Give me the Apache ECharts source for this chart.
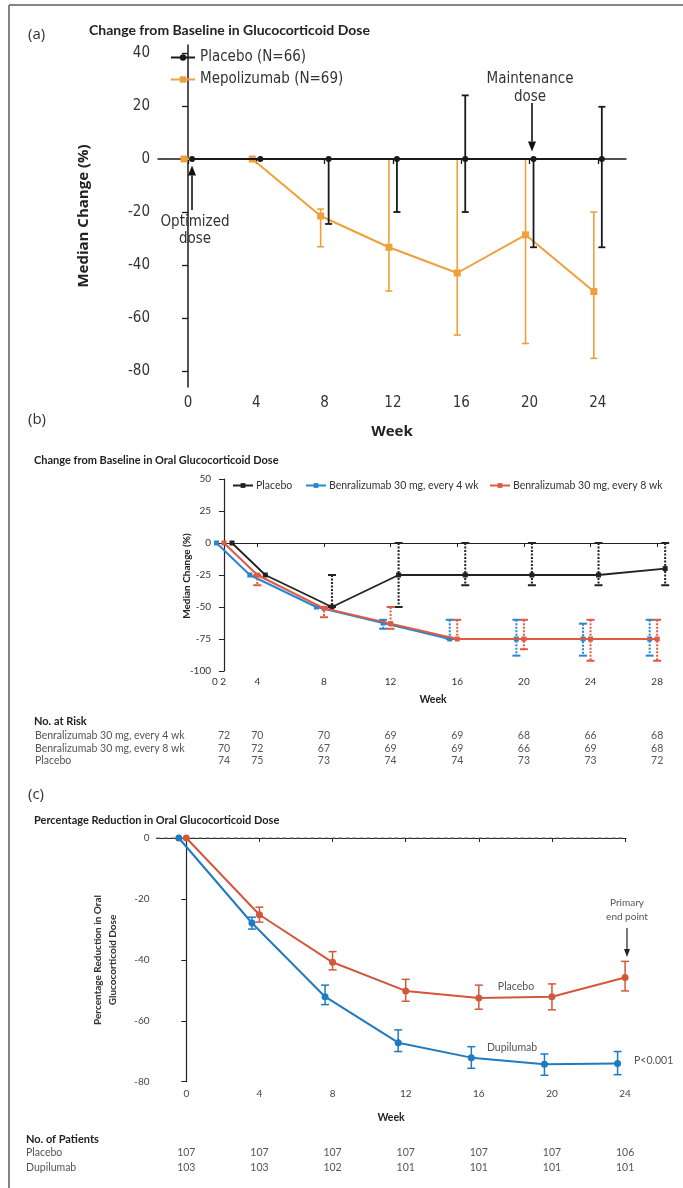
<!DOCTYPE html>
<html><head><meta charset="utf-8">
<script src="https://cdn.jsdelivr.net/npm/echarts@6/dist/echarts.min.js"></script>
<style>html,body{margin:0;padding:0;background:#fff}#chart{width:683px;height:1188px}</style>
</head><body><div id="chart"></div>
<script>
// ---------- Panel (a) data ----------
const weeksA = [0, 4, 8, 12, 16, 20, 24];
const yTicksA = [-80, -60, -40, -20, 0, 20, 40];
const placeboA = [0, 0, 0, 0, 0, 0, 0];
const placeboA_lo = [null, null, -24.5, -20, -20, -33.3, -33.3];
const placeboA_hi = [null, null, 0, 0, 24, 0, 19.7];
const mepoA = [0, 0, -21.5, -33.3, -43, -28.6, -50];
const mepoA_lo = [null, null, -33.1, -49.8, -66.4, -69.6, -75.2];
const mepoA_hi = [null, null, -18.9, 0, 0, 0, -20];

// ---------- Panel (b) data ----------
const weeksB = [0, 4, 8, 12, 16, 20, 24, 28];
const xTickLabelsB = ['0 2', '4', '8', '12', '16', '20', '24', '28'];
const placeboB = [0, -25, -50, -25, -25, -25, -25, -20];
const placeboB_lo = [null, null, -50, -50, -33, -33, -33, -33];
const placeboB_hi = [null, null, -25, 0, 0, 0, 0, 0];
const q4B = [0, -25, -50, -62.5, -75, -75, -75, -75];
const q4B_lo = [null, null, null, -67, -75, -88, -88, -88];
const q4B_hi = [null, null, null, -60, -60, -60, -63, -60];
const q8B = [0, -25, -51, -63, -75, -75, -75, -75];
const q8B_lo = [null, -33, -58, -67, -75, -83, -92, -92];
const q8B_hi = [null, -25, -50, -50, -60, -60, -60, -60];
const riskRowLabelsB = ['Benralizumab 30 mg, every 4 wk', 'Benralizumab 30 mg, every 8 wk', 'Placebo'];
const riskQ4 = [72, 70, 70, 69, 69, 68, 66, 68];
const riskQ8 = [70, 72, 67, 69, 69, 66, 69, 68];
const riskPlaceboB = [74, 75, 73, 74, 74, 73, 73, 72];

// ---------- Panel (c) data ----------
const weeksC = [0, 4, 8, 12, 16, 20, 24];
const placeboC = [0, -25.2, -40.8, -50.2, -52.5, -52.1, -45.8];
const placeboC_lo = [null, -27.6, -43.3, -53.6, -56.2, -56.4, -50.2];
const placeboC_hi = [null, -22.7, -37.3, -46.4, -48.3, -47.9, -40.5];
const dupiC = [0, -27.9, -52.1, -67.2, -72.1, -74.3, -74.0];
const dupiC_lo = [null, -29.9, -54.7, -70.1, -75.6, -77.9, -77.7];
const dupiC_hi = [null, -26.0, -48.3, -63.0, -68.5, -70.9, -70.1];
const patientRowLabelsC = ['Placebo', 'Dupilumab'];
const patientsPlaceboC = [107, 107, 107, 107, 107, 107, 106];
const patientsDupiC = [103, 103, 102, 101, 101, 101, 101];

// ---------- styling ----------
const FA = "'Liberation Sans Narrow','DejaVu Sans Condensed','Open Sans',sans-serif";
const FB = "Lato,'Open Sans',sans-serif";
const ORANGE = '#eea03a', BLACK = '#1a1a1a';
const BLUE_B = '#2a86cc', RED_B = '#de5a43', BLACK_B = '#222';
const BLUE_C = '#1f7bc1', RED_C = '#d2583d';

function lineSeries(name, xi, yi, weeks, vals, color, symbol, size, width, z) {
  return {
    type: 'line', name, xAxisIndex: xi, yAxisIndex: yi, clip: false, z,
    data: weeks.map((w, i) => [w, vals[i]]),
    symbol, symbolSize: size, showSymbol: true,
    itemStyle: { color }, lineStyle: { color, width },
    emphasis: { disabled: true }, animation: false
  };
}
function errSeries(name, xi, yi, weeks, lo, hi, color, width, cap, dash, z) {
  const data = [];
  weeks.forEach((w, i) => { if (lo[i] != null) data.push([w, lo[i], hi[i]]); });
  return {
    type: 'custom', name, xAxisIndex: xi, yAxisIndex: yi, clip: false, z, silent: true,
    encode: { x: 0, y: [1, 2] }, data, animation: false,
    renderItem(params, api) {
      const x = api.value(0);
      const t = api.coord([x, api.value(2)]);
      const b = api.coord([x, api.value(1)]);
      const h = cap / 2;
      const st = { stroke: color, lineWidth: width };
      return {
        type: 'group', children: [
          { type: 'line', shape: { x1: t[0], y1: t[1], x2: b[0], y2: b[1] }, style: Object.assign({}, st, dash ? { lineDash: dash } : {}) },
          { type: 'line', shape: { x1: t[0] - h, y1: t[1], x2: t[0] + h, y2: t[1] }, style: st },
          { type: 'line', shape: { x1: b[0] - h, y1: b[1], x2: b[0] + h, y2: b[1] }, style: st }
        ]
      };
    }
  };
}

// grids
const gA = { top: 45, width: 468, height: 342 };
const gB = { top: 479, width: 446, height: 192 };
const gC = { top: 838, width: 469.5, height: 243.7 };
const grid = [
  Object.assign({ left: 158 }, gA),   // 0 panel a axes
  Object.assign({ left: 162 }, gA),   // 1 placebo a
  Object.assign({ left: 154 }, gA),   // 2 mepolizumab a
  Object.assign({ left: 217 }, gB),   // 3 panel b axes / q8
  Object.assign({ left: 209.5 }, gB), // 4 q4
  Object.assign({ left: 225 }, gB),   // 5 placebo b
  Object.assign({ left: 156.5 }, gC), // 6 panel c axes / placebo
  Object.assign({ left: 149 }, gC)    // 7 dupilumab
];

const axA = { type: 'value', min: -1.76, max: 25.65 };
const ayA = { type: 'value', min: -86, max: 43 };
const axB = { type: 'value', min: -0.42, max: 28.35, breaks: [{ start: 1, end: 3, gap: 0 }], breakArea: { show: false } };
const ayB = { type: 'value', min: -100, max: 50, interval: 25 };
const axC = { type: 'value', min: -1.63, max: 24.05 };
const ayC = { type: 'value', min: -80, max: 0, interval: 20 };
const hid = { show: false, splitLine: { show: false } };

function rowAxis(base, gi, offset, weeks, values, font) {
  return Object.assign({}, base, {
    gridIndex: gi, position: 'bottom', offset,
    axisLine: { show: false }, axisTick: { show: false }, splitLine: { show: false },
    axisLabel: {
      customValues: weeks, margin: 0, verticalAlign: 'middle',
      fontFamily: font, fontSize: 10.5, color: '#555',
      formatter: v => String(values[weeks.indexOf(v)])
    }
  });
}

const xAxis = [
  Object.assign({}, axA, {
    gridIndex: 0, splitLine: { show: false },
    axisLine: { lineStyle: { color: BLACK, width: 1.5 } },
    axisTick: { customValues: weeksA, length: 5, lineStyle: { color: BLACK, width: 1.3 } },
    axisLabel: { customValues: weeksA, margin: 9, fontFamily: FA, fontSize: 15, color: '#333' }
  }),
  Object.assign({}, axA, hid, { gridIndex: 1 }),
  Object.assign({}, axA, hid, { gridIndex: 2 }),
  Object.assign({}, axB, {
    gridIndex: 3, splitLine: { show: false },
    axisLine: { lineStyle: { color: '#222', width: 1.2 } },
    axisTick: { customValues: weeksB, length: 4, lineStyle: { color: '#222' } },
    axisLabel: {
      customValues: weeksB, margin: 6, fontFamily: FB, fontSize: 10, color: '#333',
      formatter: v => v === weeksB[0] ? '{s|' + xTickLabelsB[0] + '}' : xTickLabelsB[weeksB.indexOf(v)],
      rich: { s: { fontFamily: FB, fontSize: 10, color: '#333', padding: [0, 10, 0, 0] } }
    }
  }),
  Object.assign({}, axB, hid, { gridIndex: 4 }),
  Object.assign({}, axB, hid, { gridIndex: 5 }),
  rowAxis(axB, 3, 65, weeksB, riskQ4, FB),
  rowAxis(axB, 3, 78, weeksB, riskQ8, FB),
  rowAxis(axB, 3, 90, weeksB, riskPlaceboB, FB),
  Object.assign({}, axC, {
    gridIndex: 6, splitLine: { show: false },
    axisLine: { lineStyle: { color: '#222', width: 1.2 } },
    axisTick: { customValues: weeksC, length: 4, lineStyle: { color: '#222' } },
    axisLabel: { customValues: weeksC, margin: 7, fontFamily: FB, fontSize: 10, color: '#444' }
  }),
  Object.assign({}, axC, hid, { gridIndex: 7 }),
  rowAxis(axC, 6, 71, weeksC, patientsPlaceboC, FB),
  rowAxis(axC, 6, 86, weeksC, patientsDupiC, FB)
];

const yAxis = [
  Object.assign({}, ayA, {
    gridIndex: 0, splitLine: { show: false },
    axisLine: { show: true, lineStyle: { color: BLACK, width: 1.5 } },
    axisTick: { show: true, customValues: yTicksA, length: 6, lineStyle: { color: BLACK, width: 1.3 } },
    axisLabel: { customValues: yTicksA, margin: 8, fontFamily: FA, fontSize: 15, color: '#333' }
  }),
  Object.assign({}, ayA, hid, { gridIndex: 1 }),
  Object.assign({}, ayA, hid, { gridIndex: 2 }),
  Object.assign({}, ayB, {
    gridIndex: 3, splitLine: { show: false },
    axisLine: { show: true, lineStyle: { color: '#222', width: 1.2 } },
    axisTick: { show: true, length: 5, lineStyle: { color: '#222' } },
    axisLabel: { margin: 6, fontFamily: FB, fontSize: 10, color: '#333' }
  }),
  Object.assign({}, ayB, hid, { gridIndex: 4 }),
  Object.assign({}, ayB, hid, { gridIndex: 5 }),
  Object.assign({}, ayC, {
    gridIndex: 6, splitLine: { show: false },
    axisLine: { show: true, lineStyle: { color: '#222', width: 1.2 } },
    axisTick: { show: true, length: 5, lineStyle: { color: '#222' } },
    axisLabel: { margin: 7, fontFamily: FB, fontSize: 10, color: '#444' }
  }),
  Object.assign({}, ayC, hid, { gridIndex: 7 })
];

// dashed zero reference line in panel (c), spanning the x-axis extent up to the last week
const zeroLineC = {
  type: 'line', name: 'zero reference', xAxisIndex: 9, yAxisIndex: 6, clip: false, z: 1, silent: true,
  data: [[axC.min, 0], [weeksC[weeksC.length - 1], 0]], symbol: 'none',
  lineStyle: { type: [4, 3], color: '#666', width: 1 }, emphasis: { disabled: true }, animation: false
};

const series = [
  // panel a
  lineSeries('Mepolizumab (N=69)', 2, 2, weeksA, mepoA, ORANGE, 'rect', 7, 2, 3),
  errSeries('Mepolizumab error', 2, 2, weeksA, mepoA_lo, mepoA_hi, ORANGE, 1.6, 7, null, 3),
  lineSeries('Placebo (N=66)', 1, 1, weeksA, placeboA, BLACK, 'circle', 6, 2, 5),
  errSeries('Placebo error', 1, 1, weeksA, placeboA_lo, placeboA_hi, BLACK, 1.8, 7, null, 5),
  // panel b
  lineSeries('Benralizumab 30 mg, every 4 wk', 4, 4, weeksB, q4B, BLUE_B, 'rect', 5, 2, 3),
  errSeries('q4 error', 4, 4, weeksB, q4B_lo, q4B_hi, BLUE_B, 2, 8, [2, 1.5], 3),
  lineSeries('Placebo', 5, 5, weeksB, placeboB, BLACK_B, 'rect', 5, 1.8, 4),
  errSeries('placebo b error', 5, 5, weeksB, placeboB_lo, placeboB_hi, BLACK_B, 2, 8, [2, 1.5], 4),
  lineSeries('Benralizumab 30 mg, every 8 wk', 3, 3, weeksB, q8B, RED_B, 'rect', 5, 2, 5),
  errSeries('q8 error', 3, 3, weeksB, q8B_lo, q8B_hi, RED_B, 2, 8, [2, 1.5], 5),
  // panel c
  zeroLineC,
  lineSeries('Dupilumab', 10, 7, weeksC, dupiC, BLUE_C, 'circle', 7, 2, 4),
  errSeries('dupi error', 10, 7, weeksC, dupiC_lo, dupiC_hi, BLUE_C, 1.5, 8, null, 4),
  lineSeries('Placebo (dupilumab trial)', 9, 6, weeksC, placeboC, RED_C, 'circle', 7, 2, 4),
  errSeries('placebo c error', 9, 6, weeksC, placeboC_lo, placeboC_hi, RED_C, 1.5, 8, null, 4)
];

const legB = (name, left) => ({
  data: [name], left, top: 480, padding: 0, itemWidth: 20, itemHeight: 6, selectedMode: false,
  textStyle: { fontFamily: FB, fontSize: 10.5, color: '#333', padding: [0, 0, 0, -2] }
});
const legend = [
  {
    data: ['Placebo (N=66)', 'Mepolizumab (N=69)'], orient: 'vertical', left: 170, top: 50, padding: 0,
    itemWidth: 24, itemHeight: 8, itemGap: 7, selectedMode: false,
    textStyle: { fontFamily: FA, fontSize: 15, color: '#333', lineHeight: 14 }
  },
  legB('Placebo', 232), legB('Benralizumab 30 mg, every 4 wk', 305), legB('Benralizumab 30 mg, every 8 wk', 489)
];

function txt(text, x, y, o) {
  return { type: 'text', x, y, silent: true, z: 50, style: Object.assign({ text, fill: '#333', fontFamily: FB, fontSize: 11, verticalAlign: 'middle' }, o || {}) };
}
function arrow(x, y1, y2, hw, hl, color, w) {
  const dir = y2 > y1 ? 1 : -1;
  return [
    { type: 'line', silent: true, z: 50, shape: { x1: x, y1, x2: x, y2: y2 - dir * hl }, style: { stroke: color, lineWidth: w } },
    { type: 'polygon', silent: true, z: 50, shape: { points: [[x, y2], [x - hw, y2 - dir * hl], [x + hw, y2 - dir * hl]] }, style: { fill: color } }
  ];
}

const graphic = [
  { type: 'line', silent: true, shape: { x1: 9, y1: 5, x2: 683, y2: 5 }, style: { stroke: '#8a8080', lineWidth: 2 } },
  { type: 'line', silent: true, shape: { x1: 9, y1: 5, x2: 9, y2: 1188 }, style: { stroke: '#8a8080', lineWidth: 2 } },
  // panel a texts
  txt('(a)', 28, 35, { fontSize: 15, fontFamily: "'Open Sans',sans-serif", fill: '#333' }),
  txt('Change from Baseline in Glucocorticoid Dose', 89, 30, { fontSize: 14, fontWeight: 'bold', fill: '#222' }),
  { type: 'text', x: 84, y: 216, rotation: Math.PI / 2, silent: true, z: 50,
    style: { text: 'Median Change (%)', align: 'center', verticalAlign: 'middle', fontFamily: "'Open Sans',sans-serif", fontWeight: 'bold', fontSize: 15, fill: '#222' } },
  txt('Week', 392, 432, { align: 'center', fontSize: 15, fontWeight: 'bold', fontFamily: "'Open Sans',sans-serif", fill: '#222' }),
  txt('Optimized\ndose', 195, 231, { align: 'center', fontFamily: FA, fontSize: 15, lineHeight: 17, fill: '#333' }),
  txt('Maintenance\ndose', 530, 88, { align: 'center', fontFamily: FA, fontSize: 15, lineHeight: 18, fill: '#333' }),
  ...arrow(192, 210, 165.5, 4, 10, '#111', 1.6),
  ...arrow(532, 103, 151.5, 4, 10, '#111', 1.6),
  // panel b texts
  txt('(b)', 28, 420, { fontSize: 15, fontFamily: "'Open Sans',sans-serif", fill: '#333' }),
  txt('Change from Baseline in Oral Glucocorticoid Dose', 34, 460, { fontSize: 11, fontWeight: 'bold', fill: '#222' }),
  { type: 'text', x: 187, y: 576, rotation: Math.PI / 2, silent: true, z: 50,
    style: { text: 'Median Change (%)', align: 'center', verticalAlign: 'middle', fontFamily: FB, fontWeight: 'bold', fontSize: 10, fill: '#222' } },
  txt('Week', 433, 700, { align: 'center', fontSize: 10.5, fontWeight: 'bold', fill: '#222' }),
  txt('No. at Risk', 34, 721, { fontSize: 11, fontWeight: 'bold', fill: '#222' }),
  txt(riskRowLabelsB[0], 35, 736, { fontSize: 10.5, fill: '#555' }),
  txt(riskRowLabelsB[1], 35, 749, { fontSize: 10.5, fill: '#555' }),
  txt(riskRowLabelsB[2], 35, 761, { fontSize: 10.5, fill: '#555' }),
  // panel c texts
  txt('(c)', 28, 795, { fontSize: 15, fontFamily: "'Open Sans',sans-serif", fill: '#333' }),
  txt('Percentage Reduction in Oral Glucocorticoid Dose', 34, 820, { fontSize: 11, fontWeight: 'bold', fill: '#222' }),
  { type: 'text', x: 105, y: 960, rotation: Math.PI / 2, silent: true, z: 50,
    style: { text: 'Percentage Reduction in Oral\nGlucocorticoid Dose', align: 'center', verticalAlign: 'middle', lineHeight: 15, fontFamily: FB, fontWeight: 'bold', fontSize: 10, fill: '#333' } },
  txt('Week', 391, 1118, { align: 'center', fontSize: 10.5, fontWeight: 'bold', fill: '#222' }),
  txt('Primary\nend point', 627, 910, { align: 'center', fontSize: 10, lineHeight: 14, fill: '#555' }),
  ...arrow(627, 928, 957, 3, 8, '#222', 1.2),
  txt('Placebo', 516, 987, { align: 'center', fontSize: 10.5, fill: '#555' }),
  txt('Dupilumab', 512, 1048, { align: 'center', fontSize: 10.5, fill: '#555' }),
  txt('P<0.001', 634, 1061, { fontSize: 10.5, fill: '#555' }),
  txt('No. of Patients', 26, 1139, { fontSize: 11, fontWeight: 'bold', fill: '#222' }),
  txt(patientRowLabelsC[0], 26, 1153, { fontSize: 10.5, fill: '#555' }),
  txt(patientRowLabelsC[1], 26, 1168, { fontSize: 10.5, fill: '#555' })
];

const chart = echarts.init(document.getElementById('chart'), null, { renderer: 'canvas' });
chart.setOption({
  backgroundColor: '#ffffff', animation: false,
  grid, xAxis, yAxis, series, legend, graphic
});
</script></body></html>
